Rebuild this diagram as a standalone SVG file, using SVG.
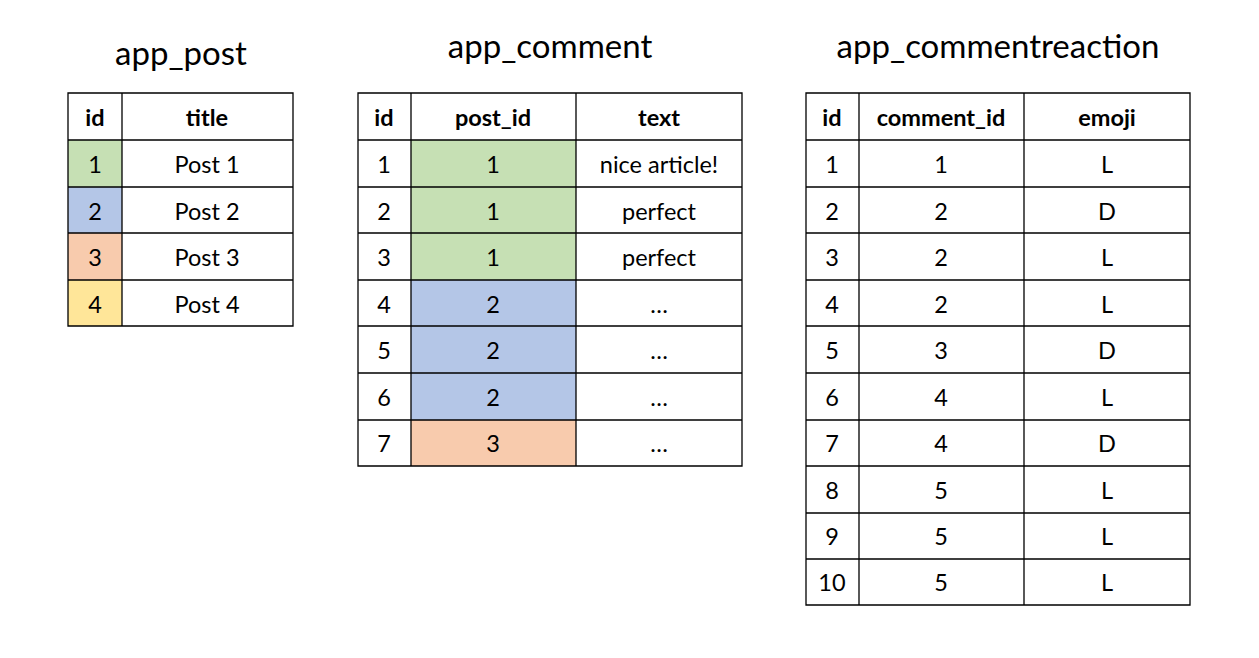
<svg xmlns="http://www.w3.org/2000/svg" width="1259" height="658" viewBox="0 0 1259 658">
<style>
.t{font-family:Lato,"Liberation Sans",sans-serif;font-size:33px;text-anchor:middle;fill:#000}
.c{font-family:Lato,"Liberation Sans",sans-serif;font-size:23.5px;text-anchor:middle;dominant-baseline:central;fill:#000}
.h{font-weight:bold}
.g{fill:none;stroke:#000;stroke-width:1.3}
</style>
<rect width="1259" height="658" fill="#fff"/>
<g id="app_post">
<text class="t" x="181" y="65">app_post</text>
<rect x="68" y="140" width="54" height="47" fill="#C6E0B4"/>
<rect x="68" y="187" width="54" height="46" fill="#B4C6E7"/>
<rect x="68" y="233" width="54" height="47" fill="#F8CBAD"/>
<rect x="68" y="280" width="54" height="46" fill="#FFE699"/>
<path class="g" d="M68 93H293V326H68Z M122 93V326 M68 140H293 M68 187H293 M68 233H293 M68 280H293"/>
<text class="c h" x="95" y="117">id</text><text class="c h" x="207" y="117">title</text>
<text class="c" x="95" y="164">1</text><text class="c" x="207" y="164">Post 1</text>
<text class="c" x="95" y="211">2</text><text class="c" x="207" y="211">Post 2</text>
<text class="c" x="95" y="257">3</text><text class="c" x="207" y="257">Post 3</text>
<text class="c" x="95" y="304">4</text><text class="c" x="207" y="304">Post 4</text>
</g>
<g id="app_comment">
<text class="t" x="550" y="58">app_comment</text>
<rect x="411" y="140" width="165" height="140" fill="#C6E0B4"/>
<rect x="411" y="280" width="165" height="140" fill="#B4C6E7"/>
<rect x="411" y="420" width="165" height="46" fill="#F8CBAD"/>
<path class="g" d="M358 93H742V466H358Z M411 93V466 M576 93V466 M358 140H742 M358 187H742 M358 233H742 M358 280H742 M358 326H742 M358 373H742 M358 420H742"/>
<text class="c h" x="384" y="117">id</text><text class="c h" x="493" y="117">post_id</text><text class="c h" x="659" y="117">text</text>
<text class="c" x="384" y="164">1</text><text class="c" x="493" y="164">1</text><text class="c" x="659" y="164">nice article!</text>
<text class="c" x="384" y="211">2</text><text class="c" x="493" y="211">1</text><text class="c" x="659" y="211">perfect</text>
<text class="c" x="384" y="257">3</text><text class="c" x="493" y="257">1</text><text class="c" x="659" y="257">perfect</text>
<text class="c" x="384" y="304">4</text><text class="c" x="493" y="304">2</text><text class="c" x="659" y="304">…</text>
<text class="c" x="384" y="350">5</text><text class="c" x="493" y="350">2</text><text class="c" x="659" y="350">…</text>
<text class="c" x="384" y="397">6</text><text class="c" x="493" y="397">2</text><text class="c" x="659" y="397">…</text>
<text class="c" x="384" y="443">7</text><text class="c" x="493" y="443">3</text><text class="c" x="659" y="443">…</text>
</g>
<g id="app_commentreaction">
<text class="t" x="998" y="58">app_commentreaction</text>
<path class="g" d="M806 93H1190V605H806Z M859 93V605 M1024 93V605 M806 140H1190 M806 187H1190 M806 233H1190 M806 280H1190 M806 326H1190 M806 373H1190 M806 420H1190 M806 466H1190 M806 513H1190 M806 559H1190"/>
<text class="c h" x="832" y="117">id</text><text class="c h" x="941" y="117">comment_id</text><text class="c h" x="1107" y="117">emoji</text>
<text class="c" x="832" y="164">1</text><text class="c" x="941" y="164">1</text><text class="c" x="1107" y="164">L</text>
<text class="c" x="832" y="211">2</text><text class="c" x="941" y="211">2</text><text class="c" x="1107" y="211">D</text>
<text class="c" x="832" y="257">3</text><text class="c" x="941" y="257">2</text><text class="c" x="1107" y="257">L</text>
<text class="c" x="832" y="304">4</text><text class="c" x="941" y="304">2</text><text class="c" x="1107" y="304">L</text>
<text class="c" x="832" y="350">5</text><text class="c" x="941" y="350">3</text><text class="c" x="1107" y="350">D</text>
<text class="c" x="832" y="397">6</text><text class="c" x="941" y="397">4</text><text class="c" x="1107" y="397">L</text>
<text class="c" x="832" y="443">7</text><text class="c" x="941" y="443">4</text><text class="c" x="1107" y="443">D</text>
<text class="c" x="832" y="490">8</text><text class="c" x="941" y="490">5</text><text class="c" x="1107" y="490">L</text>
<text class="c" x="832" y="536">9</text><text class="c" x="941" y="536">5</text><text class="c" x="1107" y="536">L</text>
<text class="c" x="832" y="582">10</text><text class="c" x="941" y="582">5</text><text class="c" x="1107" y="582">L</text>
</g>
<g id="connectors"/>
</svg>
